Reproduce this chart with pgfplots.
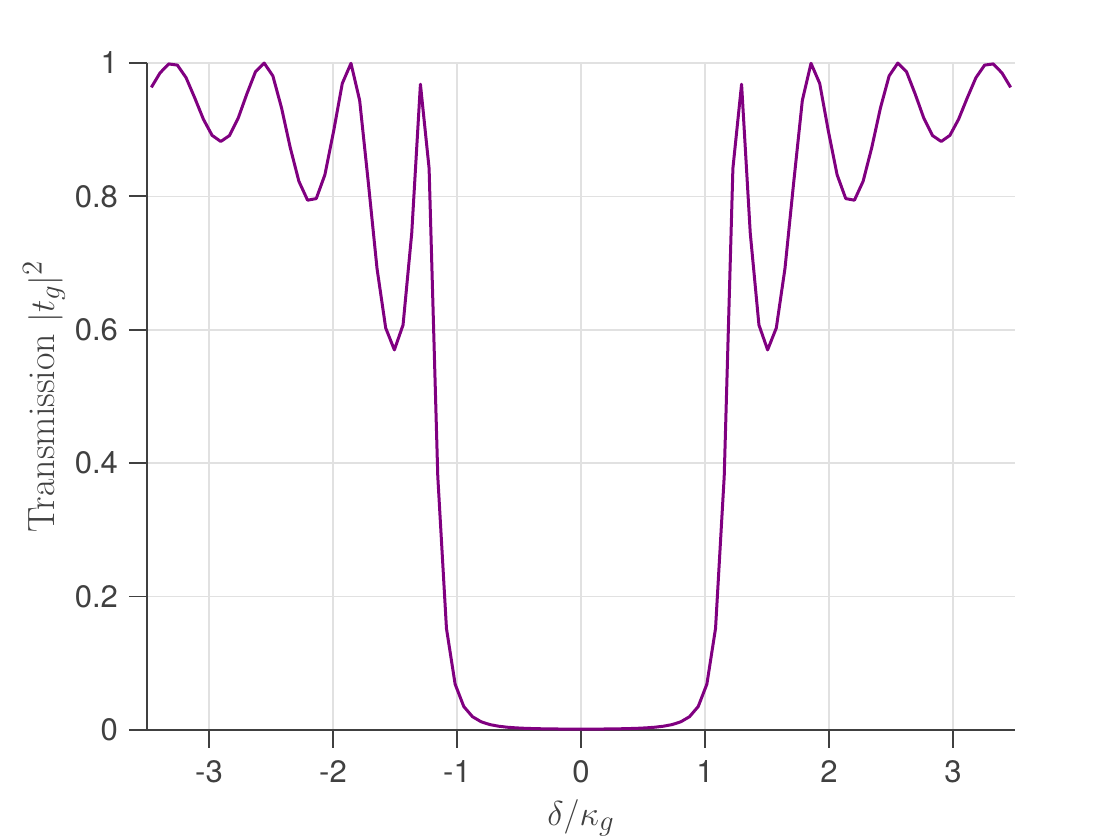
\documentclass[border=0pt]{standalone}
\usepackage{pgfplots}
\pgfplotsset{compat=1.18}
\usepackage{pgfplotstable}
\usepackage{fontspec}
\newfontfamily\heros{TeX Gyre Heros}
\definecolor{axgray}{RGB}{64,64,64}
\definecolor{gridgray}{RGB}{225,225,225}
\definecolor{curve}{RGB}{128,0,128}
\pgfplotstableread{
x T
-3.465 0.9634
-3.395 0.9851
-3.325 0.9986
-3.255 0.9968
-3.185 0.9780
-3.115 0.9477
-3.045 0.9156
-2.975 0.8915
-2.905 0.8823
-2.835 0.8912
-2.765 0.9171
-2.695 0.9535
-2.625 0.9869
-2.555 0.9999
-2.485 0.9807
-2.415 0.9327
-2.345 0.8733
-2.275 0.8226
-2.205 0.7943
-2.135 0.7967
-2.065 0.8326
-1.995 0.8977
-1.925 0.9694
-1.855 0.9995
-1.785 0.9439
-1.715 0.8204
-1.645 0.6920
-1.575 0.6027
-1.505 0.5699
-1.435 0.6073
-1.365 0.7449
-1.295 0.9682
-1.225 0.8421
-1.155 0.3803
-1.085 0.1522
-1.015 0.0686
-0.945 0.0351
-0.875 0.01993
-0.805 0.01229
-0.735 0.00811
-0.665 0.00567
-0.595 0.00416
-0.525 0.00320
-0.455 0.00255
-0.385 0.00212
-0.315 0.00182
-0.245 0.00161
-0.175 0.00147
-0.105 0.00139
-0.035 0.00135
0.035 0.00135
0.105 0.00139
0.175 0.00147
0.245 0.00161
0.315 0.00182
0.385 0.00212
0.455 0.00255
0.525 0.00320
0.595 0.00416
0.665 0.00567
0.735 0.00811
0.805 0.01229
0.875 0.01993
0.945 0.0351
1.015 0.0686
1.085 0.1522
1.155 0.3803
1.225 0.8421
1.295 0.9682
1.365 0.7449
1.435 0.6073
1.505 0.5699
1.575 0.6027
1.645 0.6920
1.715 0.8204
1.785 0.9439
1.855 0.9995
1.925 0.9694
1.995 0.8977
2.065 0.8326
2.135 0.7967
2.205 0.7943
2.275 0.8226
2.345 0.8733
2.415 0.9327
2.485 0.9807
2.555 0.9999
2.625 0.9869
2.695 0.9535
2.765 0.9171
2.835 0.8912
2.905 0.8823
2.975 0.8915
3.045 0.9156
3.115 0.9477
3.185 0.9780
3.255 0.9968
3.325 0.9986
3.395 0.9851
3.465 0.9634
}\datatable
\begin{document}
\begin{tikzpicture}
\useasboundingbox (0,0) rectangle (560pt,420pt);
\begin{axis}[
  at={(73.5pt,55pt)}, anchor=south west,
  scale only axis, width=434pt, height=333.5pt,
  xmin=-3.5, xmax=3.5, ymin=0, ymax=1,
  axis x line*=bottom, axis y line*=left,
  axis line style={-, draw=axgray, line width=0.9pt},
  xtick={-3,-2,-1,0,1,2,3},
  xticklabels={-3,-2,-1,0,1,2,3},
  ytick={0,0.2,0.4,0.6,0.8,1},
  yticklabels={0,0.2,0.4,0.6,0.8,1},
  tick align=outside,
  major tick length=9pt,
  tick style={draw=axgray, line width=0.9pt},
  ticklabel style={font=\heros\fontsize{15.5}{18}\selectfont, text=axgray},
  yticklabel style={xshift=-2pt},
  xticklabel style={yshift=-2.5pt},
  grid=major,
  major grid style={draw=gridgray, line width=0.8pt},
  xlabel={$\delta/\kappa_g$},
  ylabel={Transmission $|t_g|^2$},
  label style={font=\fontsize{19}{22}\selectfont, text=axgray},
  xlabel style={at={(axis description cs:0.5,-0.1319)}, anchor=center},
  ylabel style={at={(axis description cs:-0.1187,0.5)}, anchor=center},
  clip=false,
]
\addplot[curve, line width=1.5pt, line join=round] table[x=x, y=T] {\datatable};
\end{axis}
\end{tikzpicture}
\end{document}
